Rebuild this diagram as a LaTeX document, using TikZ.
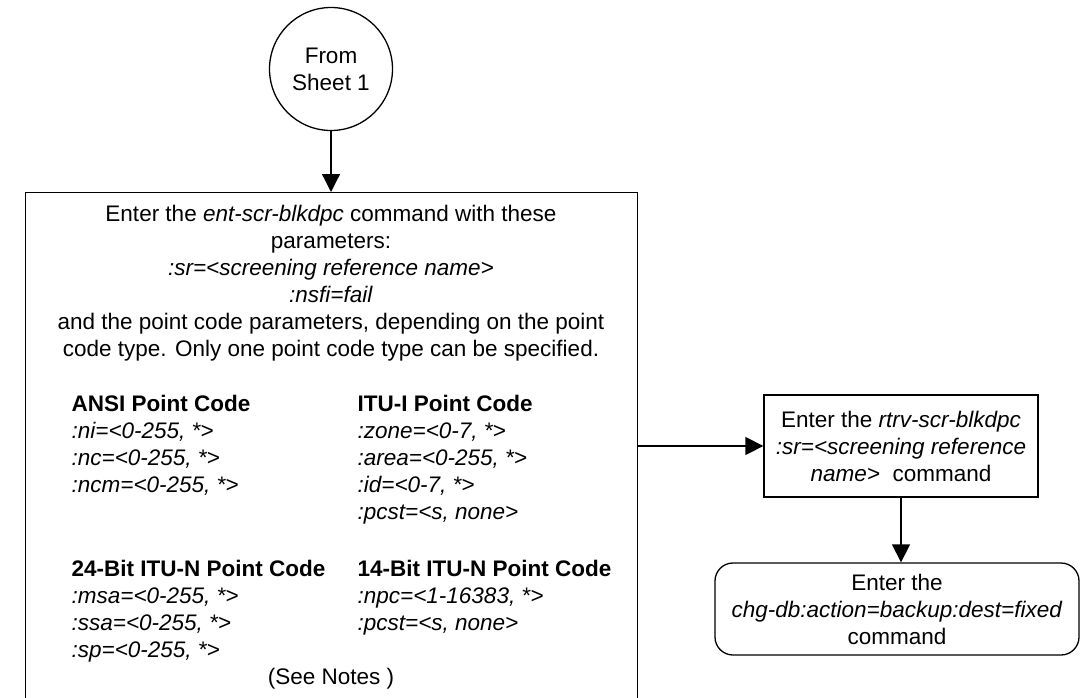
\documentclass[tikz,border=0pt]{standalone}
\usepackage{fontspec}
\setmainfont{Liberation Sans}
\usetikzlibrary{arrows.meta}
\begin{document}
\begin{tikzpicture}[x=1pt,y=-1pt,
  line width=1.3pt,
  every node/.style={font=\fontsize{22.5}{27}\selectfont, inner sep=0pt},
  box/.style={draw, rectangle},
  arr/.style={-{Triangle[length=18pt,width=18pt]}},
  txt/.style={anchor=base},
  lbl/.style={anchor=base west}]
\useasboundingbox (0,0) rectangle (1081,698);
% start connector
\node[draw, circle, minimum size=123, align=center] (from) at (331,69) {From\\Sheet 1};
% big box (bottom edge lies below the picture)
\node[box, anchor=north west, minimum width=612, minimum height=520] (ent) at (25,192) {};
\node[txt] (l1) at (331,221) {Enter the \textit{ent-scr-blkdpc} command with these};
\node[txt] (l2) at (331,248) {parameters:};
\node[txt] (l3) at (331,275) {\textit{:sr=<screening reference name>}};
\node[txt] (l4) at (331,302) {\textit{:nsfi=fail}};
\node[txt] (l5) at (331,329) {and the point code parameters, depending on the point};
\node[txt] (l6) at (331,356) {code type. Only one point code type can be specified.};
% ANSI
\node[lbl] (a0) at (71,411) {\textbf{ANSI Point Code}};
\node[lbl] (a1) at (71,438) {\textit{:ni=<0-255, *>}};
\node[lbl] (a2) at (71,465) {\textit{:nc=<0-255, *>}};
\node[lbl] (a3) at (71,492) {\textit{:ncm=<0-255, *>}};
% ITU-I
\node[lbl] (i0) at (357,411) {\textbf{ITU-I Point Code}};
\node[lbl] (i1) at (357,438) {\textit{:zone=<0-7, *>}};
\node[lbl] (i2) at (357,465) {\textit{:area=<0-255, *>}};
\node[lbl] (i3) at (357,492) {\textit{:id=<0-7, *>}};
\node[lbl] (i4) at (357,519) {\textit{:pcst=<s, none>}};
% 24-bit
\node[lbl] (n0) at (71,576) {\textbf{24-Bit ITU-N Point Code}};
\node[lbl] (n1) at (71,603) {\textit{:msa=<0-255, *>}};
\node[lbl] (n2) at (71,630) {\textit{:ssa=<0-255, *>}};
\node[lbl] (n3) at (71,657) {\textit{:sp=<0-255, *>}};
% 14-bit
\node[lbl] (m0) at (357,576) {\textbf{14-Bit ITU-N Point Code}};
\node[lbl] (m1) at (357,603) {\textit{:npc=<1-16383, *>}};
\node[lbl] (m2) at (357,630) {\textit{:pcst=<s, none>}};
\node[txt] (notes) at (331,684) {(See Notes )};
% right side
\node[box, minimum width=274, minimum height=102, align=center] (rtrv) at (901,446)
  {Enter the \textit{rtrv-scr-blkdpc}\\\textit{:sr=<screening reference}\\\textit{name>}\ \ command};
\node[box, rounded corners=18pt, minimum width=364, minimum height=92, align=center] (db) at (897,609)
  {Enter the\\\textit{chg-db:action=backup:dest=fixed}\\command};
% connectors
\draw[arr] (from.south) -- (from.south |- ent.north);
\draw[arr] (rtrv.west -| ent.east) -- (rtrv.west);
\draw[arr] (rtrv.south) -- (rtrv.south |- db.north);
\end{tikzpicture}
\end{document}
